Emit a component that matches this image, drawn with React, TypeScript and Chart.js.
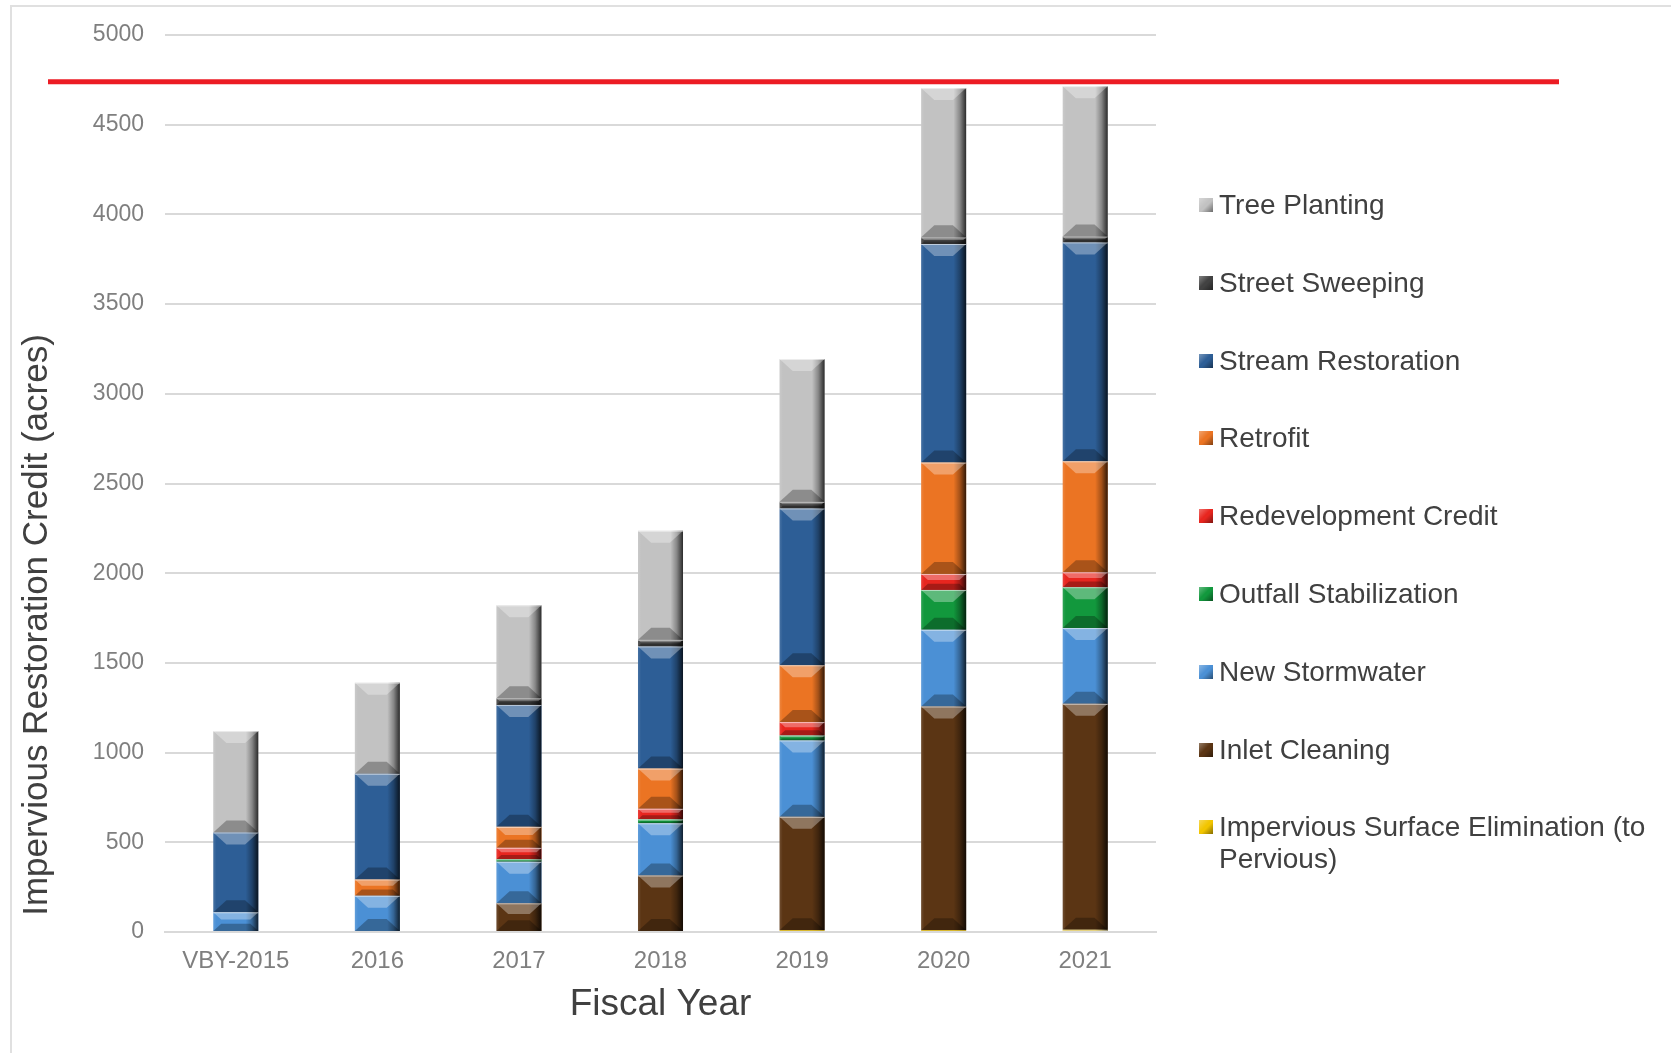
import React, { useEffect, useRef } from "react";
import { Chart, registerables } from "chart.js";

Chart.register(...registerables);

// ---------- data ----------
const CATEGORIES = ["VBY-2015", "2016", "2017", "2018", "2019", "2020", "2021"];

const IMPERVIOUS_ELIM = [0, 0, 0, 0, 10, 10, 12];
const INLET_CLEANING = [0, 0, 160, 315, 632, 1247, 1260];
const NEW_STORMWATER = [110, 202, 232, 291, 426, 428, 422];
const OUTFALL_STAB = [0, 0, 13, 22, 28, 222, 228];
const REDEVELOPMENT = [0, 0, 64, 59, 74, 89, 83];
const RETROFIT = [0, 91, 117, 224, 317, 621, 619];
const STREAM_RESTORATION = [445, 589, 680, 681, 874, 1218, 1220];
const STREET_SWEEPING = [0, 0, 37, 37, 37, 37, 33];
const TREE_PLANTING = [565, 508, 518, 608, 796, 832, 838];

const TARGET_VALUE = 4740;
const Y_MIN = 0;
const Y_MAX = 5000;
const Y_STEP = 500;

const X_TITLE = "Fiscal Year";
const Y_TITLE = "Impervious Restoration Credit (acres)";

// bottom-to-top stacking order
const SERIES = [
  { name: "Impervious Surface Elimination (to Pervious)", data: IMPERVIOUS_ELIM, color: "#f2c500" },
  { name: "Inlet Cleaning", data: INLET_CLEANING, color: "#5b3514" },
  { name: "New Stormwater", data: NEW_STORMWATER, color: "#4b90d5" },
  { name: "Outfall Stabilization", data: OUTFALL_STAB, color: "#12983d" },
  { name: "Redevelopment Credit", data: REDEVELOPMENT, color: "#e8261f" },
  { name: "Retrofit", data: RETROFIT, color: "#eb7423" },
  { name: "Stream Restoration", data: STREAM_RESTORATION, color: "#2d5e96" },
  { name: "Street Sweeping", data: STREET_SWEEPING, color: "#424242" },
  { name: "Tree Planting", data: TREE_PLANTING, color: "#c2c2c2" },
];

const FONT = "Arial, 'Liberation Sans', Helvetica, sans-serif";

// ---------- plugins ----------
const bevelPlugin = {
  id: "bevel",
  afterDatasetsDraw(chart: any) {
    const ctx = chart.ctx;
    chart.data.datasets.forEach((_ds: any, di: number) => {
      const meta = chart.getDatasetMeta(di);
      if (meta.hidden) return;
      meta.data.forEach((el: any) => {
        const { x, y, base, width } = el.getProps(["x", "y", "base", "width"], true);
        const left = x - width / 2;
        const right = x + width / 2;
        const top = Math.min(y, base);
        const bottom = Math.max(y, base);
        const h = bottom - top;
        if (h < 0.8) return;
        const b = Math.min(12, h / 2.6);
        ctx.save();
        const g = ctx.createLinearGradient(left, 0, right, 0);
        g.addColorStop(0, "rgba(255,255,255,0.12)");
        g.addColorStop(0.07, "rgba(255,255,255,0)");
        g.addColorStop(0.72, "rgba(0,0,0,0)");
        g.addColorStop(0.86, "rgba(0,0,0,0.3)");
        g.addColorStop(1, "rgba(0,0,0,0.78)");
        ctx.fillStyle = g;
        ctx.fillRect(left, top, width, h);
        // top bevel (light)
        ctx.beginPath();
        ctx.moveTo(left, top);
        ctx.lineTo(right, top);
        ctx.lineTo(right - b * 1.1, top + b);
        ctx.lineTo(left + b * 1.1, top + b);
        ctx.closePath();
        ctx.fillStyle = "rgba(255,255,255,0.32)";
        ctx.fill();
        // bottom bevel (dark)
        ctx.beginPath();
        ctx.moveTo(left, bottom);
        ctx.lineTo(right, bottom);
        ctx.lineTo(right - b * 1.1, bottom - b);
        ctx.lineTo(left + b * 1.1, bottom - b);
        ctx.closePath();
        ctx.fillStyle = "rgba(0,0,0,0.28)";
        ctx.fill();
        // separator
        ctx.fillStyle = "rgba(255,255,255,0.55)";
        ctx.fillRect(left, top, width, 1);
        ctx.restore();
      });
    });
  },
};

const targetLinePlugin = {
  id: "targetLine",
  afterDatasetsDraw(chart: any) {
    const { ctx, chartArea } = chart;
    const y = chart.scales.y.getPixelForValue(TARGET_VALUE);
    ctx.save();
    ctx.strokeStyle = "#ec1c24";
    ctx.lineWidth = 5;
    ctx.beginPath();
    ctx.moveTo(chartArea.left - 117, y);
    ctx.lineTo(chartArea.right + 403, y);
    ctx.stroke();
    ctx.restore();
  },
};

const yTitlePlugin = {
  id: "yTitle",
  afterDraw(chart: any) {
    const { ctx, chartArea } = chart;
    ctx.save();
    ctx.translate(37, chartArea.bottom - 307);
    ctx.rotate(-Math.PI / 2);
    ctx.font = `35px ${FONT}`;
    ctx.fillStyle = "#404040";
    ctx.textAlign = "center";
    ctx.textBaseline = "middle";
    ctx.fillText(Y_TITLE, 0, 0);
    ctx.restore();
  },
};

// ---------- component ----------
function BarChart() {
  const canvasRef = useRef<HTMLCanvasElement | null>(null);

  useEffect(() => {
    if (!canvasRef.current) return;
    const chart = new Chart(canvasRef.current, {
      type: "bar",
      data: {
        labels: CATEGORIES,
        datasets: SERIES.map((s) => ({
          label: s.name,
          data: s.data,
          backgroundColor: s.color,
          borderWidth: 0,
          barPercentage: 1,
          categoryPercentage: 0.318,
        })),
      },
      options: {
        responsive: true,
        maintainAspectRatio: false,
        animation: false,
        layout: { padding: { left: 0, top: 35, right: 515, bottom: 0 } },
        plugins: {
          legend: { display: false },
          tooltip: { enabled: false },
        },
        scales: {
          x: {
            stacked: true,
            grid: { display: false, drawTicks: false },
            border: { display: true, color: "#d9d9d9", width: 2 },
            ticks: { color: "#7f7f7f", font: { family: FONT, size: 24 }, padding: 15 },
            title: {
              display: true,
              text: X_TITLE,
              color: "#404040",
              font: { family: FONT, size: 37 },
              padding: { top: 0, bottom: 26 },
            },
            afterFit: (s: any) => {
              s.height = 121;
            },
          },
          y: {
            stacked: true,
            min: Y_MIN,
            max: Y_MAX,
            ticks: {
              stepSize: Y_STEP,
              color: "#7f7f7f",
              font: { family: FONT, size: 23 },
              padding: 21,
              callback: (v: any) => String(v),
            },
            grid: { color: "#d9d9d9", lineWidth: 2, drawTicks: false },
            border: { display: false },
            title: { display: false },
            afterFit: (s: any) => {
              s.width = 165;
            },
          },
        },
      } as any,
      plugins: [bevelPlugin, targetLinePlugin, yTitlePlugin],
    });
    return () => chart.destroy();
  }, []);

  return <canvas ref={canvasRef} />;
}

export default function App() {
  const legendItems = [...SERIES].reverse();
  return (
    <div
      style={{
        position: "absolute",
        left: 0,
        top: 0,
        width: 1671,
        height: 1053,
        overflow: "hidden",
        background: "#ffffff",
        fontFamily: FONT,
      }}
    >
      <div
        style={{
          position: "absolute",
          left: 10,
          top: 5,
          width: 1659,
          height: 1100,
          border: "2px solid #e0e0e0",
        }}
      />
      <div style={{ position: "absolute", left: 0, top: 0, width: 1671, height: 1053 }}>
        <BarChart />
      </div>
      {legendItems.map((s, i) => {
        const cy = 205 + 77.8 * i;
        return (
          <div key={s.name}>
            <div
              style={{
                position: "absolute",
                left: 1199,
                top: cy - 7,
                width: 14,
                height: 14,
                background: s.color,
                backgroundImage:
                  "linear-gradient(135deg, rgba(255,255,255,0.35) 0%, rgba(255,255,255,0) 45%, rgba(0,0,0,0) 55%, rgba(0,0,0,0.45) 100%)",
              }}
            />
            <div
              style={{
                position: "absolute",
                left: 1219,
                top: cy - 16,
                width: 440,
                fontSize: 28,
                lineHeight: "32px",
                color: "#404040",
                whiteSpace: "normal",
              }}
            >
              {s.name}
            </div>
          </div>
        );
      })}
    </div>
  );
}
